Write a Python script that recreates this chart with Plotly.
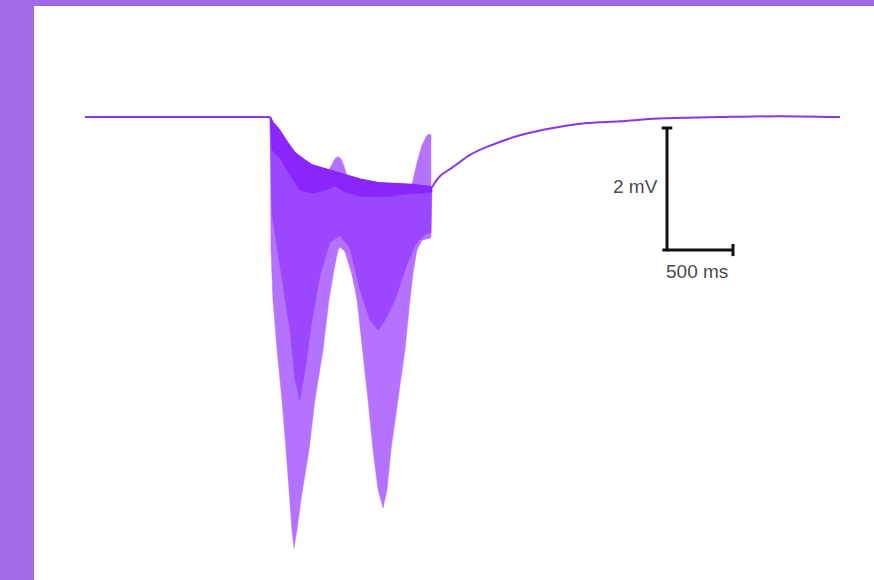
import plotly.graph_objects as go

# ---------------- data (time in ms, membrane potential in mV) ----------------
# pre-stimulus baseline
base_t = [0, 400, 800, 1200, 1402]
base_v = [0.0, 0.0, 0.0, 0.0, 0.0]

# post-stimulus recovery
rec_t = [2629, 2689, 2788, 2917, 3045, 3295, 3545, 3803, 4053, 4303, 4561, 4811, 5061, 5417, 5720]
rec_v = [-1.15, -0.97, -0.82, -0.62, -0.49, -0.30, -0.18, -0.10, -0.07, -0.03, -0.01, 0.0, 0.01, 0.01, 0.0]

# upper envelope of oscillations during the train
up_t = [1402, 1424, 1439, 1470, 1530, 1591, 1659, 1720, 1848, 1970, 2098, 2220, 2348, 2477, 2629]
up_v = [0.0, -0.10, -0.13, -0.21, -0.41, -0.59, -0.70, -0.79, -0.87, -0.95, -1.03, -1.08, -1.10, -1.11, -1.15]

# upper edge including the two depolarising bumps
top_t = [1402, 1424, 1439, 1470, 1530, 1591, 1659, 1720, 1848, 1871, 1894, 1917, 1939, 1962, 1985,
         2098, 2220, 2348, 2477, 2500, 2515, 2553, 2591, 2614, 2621]
top_v = [0.0, -0.10, -0.13, -0.21, -0.41, -0.59, -0.70, -0.79, -0.87, -0.77, -0.68, -0.65, -0.68, -0.80, -0.97,
         -1.03, -1.08, -1.10, -1.11, -0.89, -0.75, -0.46, -0.30, -0.28, -0.30]

# lower envelope (deepest troughs)
low_t = [1402, 1409, 1424, 1455, 1492, 1523, 1553, 1568, 1583, 1606, 1636, 1697, 1742, 1803, 1848, 1886,
         1917, 1932, 1970, 2023, 2061, 2098, 2144, 2182, 2220, 2258, 2288, 2318, 2371, 2424, 2462, 2485,
         2515, 2553, 2621]
low_v = [0.0, -2.18, -3.00, -3.82, -4.64, -5.46, -6.28, -6.77, -7.07, -6.77, -6.28, -5.46, -4.64, -3.82, -3.00, -2.51,
         -2.18, -2.13, -2.21, -2.59, -3.00, -3.74, -4.64, -5.46, -6.11, -6.41, -6.11, -5.46, -4.64, -3.82, -3.00, -2.56,
         -2.18, -2.02, -1.98]

# inner (denser) part of the oscillations
mid_t = [1402, 1417, 1477, 1553, 1591, 1629, 1667, 1720, 1780, 1856, 1932, 2008, 2083, 2159, 2220, 2273,
         2348, 2424, 2500, 2576, 2621]
mid_v = [0.0, -1.60, -2.40, -3.49, -4.31, -4.64, -4.15, -3.33, -2.60, -2.05, -1.95, -2.15, -2.84, -3.33, -3.49, -3.33,
         -3.00, -2.51, -2.10, -1.92, -1.90]

# solid dark band just under the upper envelope
dark_t = [1402, 1417, 1477, 1553, 1629, 1720, 1818, 1894, 1970, 2083, 2197, 2311, 2424, 2538, 2629]
dark_v = [0.0, -0.54, -0.67, -0.95, -1.20, -1.25, -1.20, -1.13, -1.23, -1.30, -1.31, -1.30, -1.26, -1.25, -1.23]

# scale bar
bar_t0 = 4409
bar_v0 = -2.18
bar_ms = 500
bar_mv = 2
bar_labels = ["2 mV", "500 ms"]

# ---------------- colours ----------------
FRAME = "#A16BE8"
LINE = "#8A36E8"
DARK = "#8A25FC"
MID = "#9B47FF"
LIGHT = "#B472FF"
INK = "#111111"
TXT = "#4A4A4A"

fig = go.Figure()


def band(t_top, v_top, t_bot, v_bot, color):
    xs = list(t_top) + list(reversed(t_bot))
    ys = list(v_top) + list(reversed(v_bot))
    fig.add_trace(go.Scatter(x=xs, y=ys, mode="lines", fill="toself", fillcolor=color,
                             line=dict(width=0.5, color=color), hoverinfo="skip", showlegend=False))


band(top_t, top_v, low_t, low_v, LIGHT)
band(up_t, up_v, mid_t, mid_v, MID)
band(up_t, up_v, dark_t, dark_v, DARK)

# envelope edge
fig.add_trace(go.Scatter(x=up_t, y=up_v, mode="lines", line=dict(color=DARK, width=2),
                         hoverinfo="skip", showlegend=False))
# baseline and recovery
fig.add_trace(go.Scatter(x=base_t, y=base_v, mode="lines", line=dict(color=LINE, width=2),
                         hoverinfo="skip", showlegend=False))
fig.add_trace(go.Scatter(x=rec_t, y=rec_v, mode="lines", line=dict(color=LINE, width=2, shape="spline"),
                         hoverinfo="skip", showlegend=False))

# scale bar
bar_x = [bar_t0, bar_t0, None, bar_t0, bar_t0 + bar_ms]
bar_y = [bar_v0, bar_v0 + bar_mv, None, bar_v0, bar_v0]
fig.add_trace(go.Scatter(x=bar_x, y=bar_y, mode="lines", line=dict(color=INK, width=3),
                         hoverinfo="skip", showlegend=False))
cap_x = [bar_t0 - 40, bar_t0 + 40, None, bar_t0 + bar_ms, bar_t0 + bar_ms, None, bar_t0 - 35, bar_t0 + 10]
cap_y = [bar_v0 + bar_mv, bar_v0 + bar_mv, None, bar_v0 - 0.1, bar_v0 + 0.1, None, bar_v0, bar_v0]
fig.add_trace(go.Scatter(x=cap_x, y=cap_y, mode="lines", line=dict(color=INK, width=3),
                         hoverinfo="skip", showlegend=False))

fig.add_annotation(x=bar_t0 - 50, y=bar_v0 + bar_mv / 2 + 0.04, text=bar_labels[0], showarrow=False,
                   xanchor="right", yanchor="middle", font=dict(size=19, color=TXT, family="Liberation Sans, Arial"))
fig.add_annotation(x=bar_t0 - 20, y=bar_v0 - 0.14, text=bar_labels[1], showarrow=False,
                   xanchor="left", yanchor="top", font=dict(size=19, color=TXT, family="Liberation Sans, Arial"))

fig.update_layout(
    width=874, height=580,
    margin=dict(l=34, r=0, t=6, b=0),
    paper_bgcolor=FRAME, plot_bgcolor="white",
    showlegend=False,
    xaxis=dict(range=[-386.36, 5977.27], visible=False, fixedrange=True),
    yaxis=dict(range=[-7.590, 1.820], visible=False, fixedrange=True),
)

fig.write_html(
    "out.html",
    config={"displayModeBar": False},
    post_script="document.body.style.margin='0';document.body.style.overflow='hidden';",
)
